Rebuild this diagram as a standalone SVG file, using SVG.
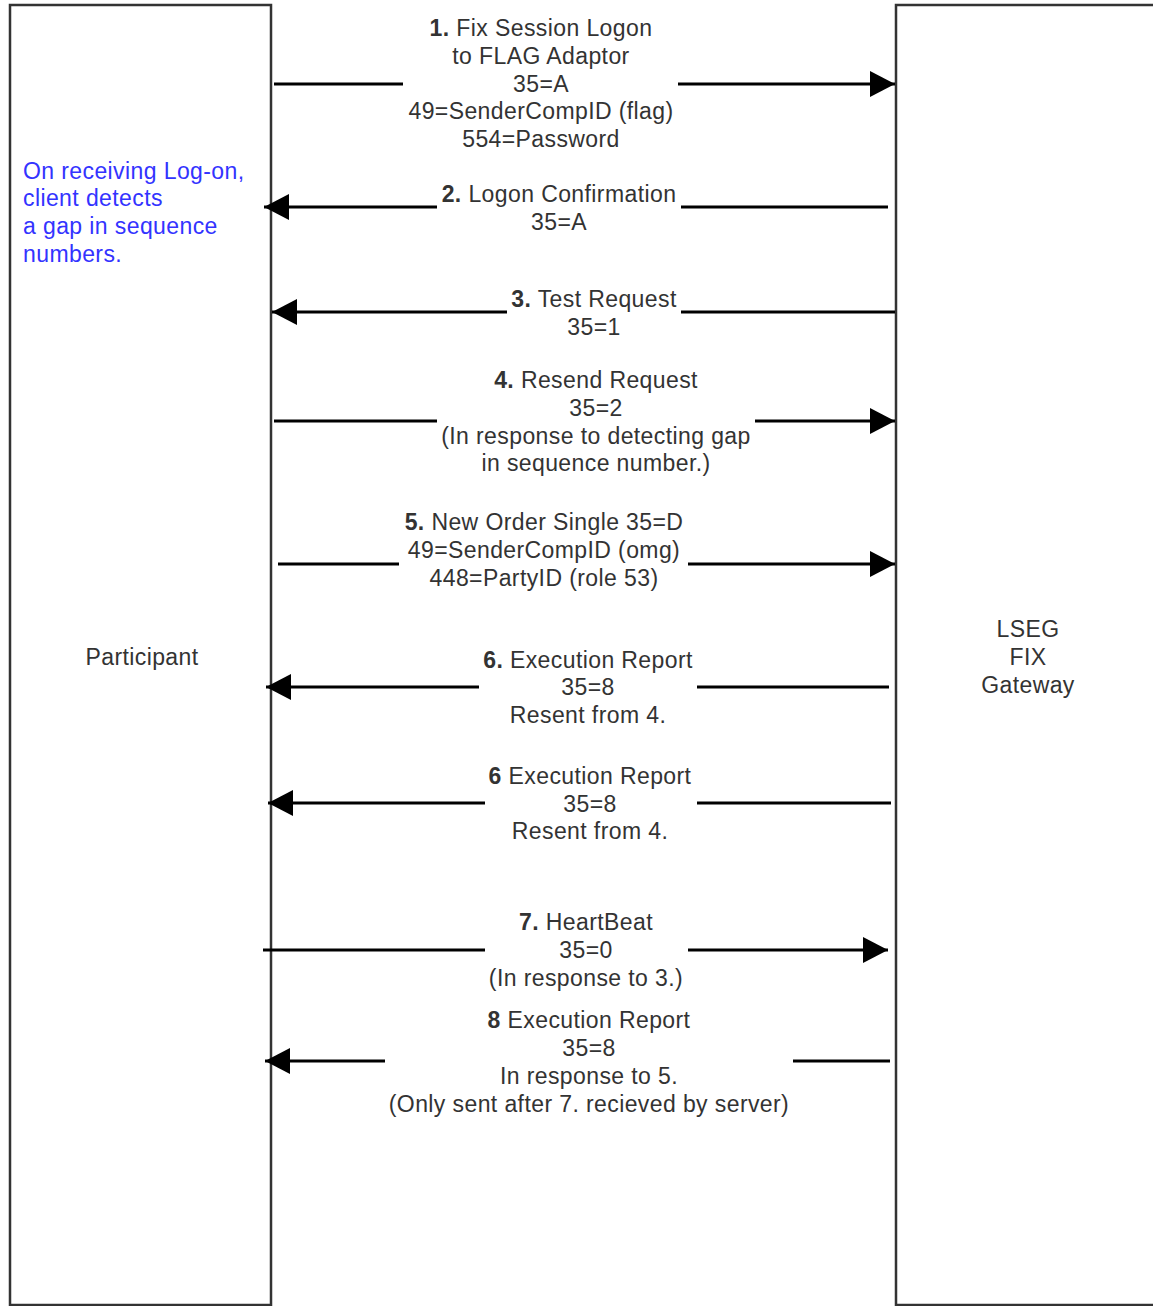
<svg xmlns="http://www.w3.org/2000/svg" width="1153" height="1306" viewBox="0 0 1153 1306">
<style>
.box{fill:#fff;stroke:#333;stroke-width:2.5}
.ln{stroke:#000;stroke-width:3;fill:none}
.t{font-family:"Liberation Sans",Arial,sans-serif;font-size:23px;letter-spacing:0.4px;fill:#333;text-anchor:middle}
.b{font-weight:bold}
.blue{font-family:"Liberation Sans",Arial,sans-serif;font-size:23px;letter-spacing:0.4px;fill:#3333ff}
</style>
<defs>
<marker id="ah" viewBox="0 0 25 26" refX="25" refY="13" markerWidth="25" markerHeight="26" markerUnits="userSpaceOnUse" orient="auto">
<path d="M0,0 L25,13 L0,26 z" fill="#000"/>
</marker>
</defs>
<rect width="1153" height="1306" fill="#fff"/>
<g id="participant">
<rect class="box" x="10" y="5" width="261" height="1300"/>
<text class="t" x="142" y="665">Participant</text>
<text class="blue" x="23" y="179">On receiving Log-on,</text>
<text class="blue" x="23" y="206">client detects</text>
<text class="blue" x="23" y="234">a gap in sequence</text>
<text class="blue" x="23" y="262">numbers.</text>
</g>
<g id="gateway">
<rect class="box" x="896" y="5" width="270" height="1300"/>
<text class="t" x="1028" y="637">LSEG</text>
<text class="t" x="1028" y="665">FIX</text>
<text class="t" x="1028" y="693">Gateway</text>
</g>
<g id="connectors">
<line class="ln" x1="274" y1="84" x2="403" y2="84"/>
<line class="ln" x1="678" y1="84" x2="895" y2="84" marker-end="url(#ah)"/>
<line class="ln" x1="888" y1="207" x2="681" y2="207"/>
<line class="ln" x1="437" y1="207" x2="264" y2="207" marker-end="url(#ah)"/>
<line class="ln" x1="895" y1="312" x2="681" y2="312"/>
<line class="ln" x1="507" y1="312" x2="272" y2="312" marker-end="url(#ah)"/>
<line class="ln" x1="274" y1="421" x2="437" y2="421"/>
<line class="ln" x1="755" y1="421" x2="895" y2="421" marker-end="url(#ah)"/>
<line class="ln" x1="278" y1="564" x2="399" y2="564"/>
<line class="ln" x1="688" y1="564" x2="895" y2="564" marker-end="url(#ah)"/>
<line class="ln" x1="889" y1="687" x2="697" y2="687"/>
<line class="ln" x1="479" y1="687" x2="266" y2="687" marker-end="url(#ah)"/>
<line class="ln" x1="891" y1="803" x2="697" y2="803"/>
<line class="ln" x1="485" y1="803" x2="268" y2="803" marker-end="url(#ah)"/>
<line class="ln" x1="263" y1="950" x2="485" y2="950"/>
<line class="ln" x1="688" y1="950" x2="888" y2="950" marker-end="url(#ah)"/>
<line class="ln" x1="890" y1="1061" x2="793" y2="1061"/>
<line class="ln" x1="385" y1="1061" x2="265" y2="1061" marker-end="url(#ah)"/>
</g>
<g id="labels">
<text class="t" x="541" y="36"><tspan class="b">1.</tspan> Fix Session Logon</text>
<text class="t" x="541" y="64">to FLAG Adaptor</text>
<text class="t" x="541" y="92">35=A</text>
<text class="t" x="541" y="119">49=SenderCompID (flag)</text>
<text class="t" x="541" y="147">554=Password</text>

<text class="t" x="559" y="202"><tspan class="b">2.</tspan> Logon Confirmation</text>
<text class="t" x="559" y="230">35=A</text>

<text class="t" x="594" y="307"><tspan class="b">3.</tspan> Test Request</text>
<text class="t" x="594" y="335">35=1</text>

<text class="t" x="596" y="388"><tspan class="b">4.</tspan> Resend Request</text>
<text class="t" x="596" y="416">35=2</text>
<text class="t" x="596" y="444">(In response to detecting gap</text>
<text class="t" x="596" y="471">in sequence number.)</text>

<text class="t" x="544" y="530"><tspan class="b">5.</tspan> New Order Single 35=D</text>
<text class="t" x="544" y="558">49=SenderCompID (omg)</text>
<text class="t" x="544" y="586">448=PartyID (role 53)</text>

<text class="t" x="588" y="668"><tspan class="b">6.</tspan> Execution Report</text>
<text class="t" x="588" y="695">35=8</text>
<text class="t" x="588" y="723">Resent from 4.</text>

<text class="t" x="590" y="784"><tspan class="b">6</tspan> Execution Report</text>
<text class="t" x="590" y="812">35=8</text>
<text class="t" x="590" y="839">Resent from 4.</text>

<text class="t" x="586" y="930"><tspan class="b">7.</tspan> HeartBeat</text>
<text class="t" x="586" y="958">35=0</text>
<text class="t" x="586" y="986">(In response to 3.)</text>

<text class="t" x="589" y="1028"><tspan class="b">8</tspan> Execution Report</text>
<text class="t" x="589" y="1056">35=8</text>
<text class="t" x="589" y="1084">In response to 5.</text>
<text class="t" x="589" y="1112">(Only sent after 7. recieved by server)</text>
</g>
</svg>
